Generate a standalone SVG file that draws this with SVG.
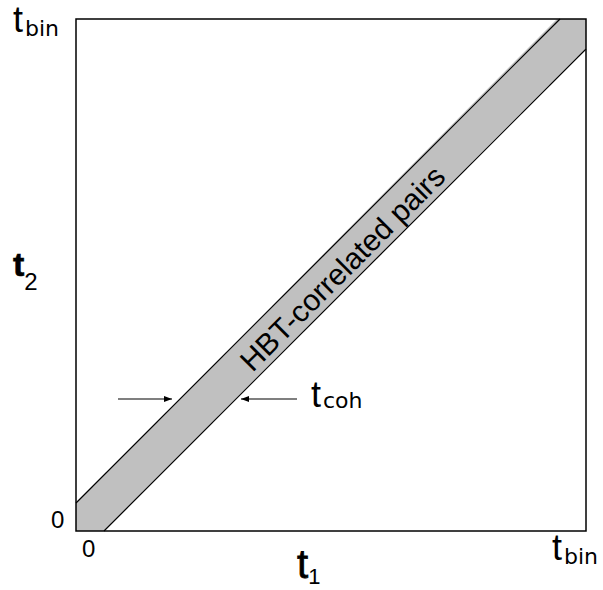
<svg xmlns="http://www.w3.org/2000/svg" width="603" height="590" viewBox="0 0 603 590">
<style>
text{font-family:"Liberation Sans",Arial,sans-serif;fill:#000}
.tw{font-size:36px}
.sub{font-family:"DejaVu Sans","Liberation Sans",sans-serif;font-size:22px}
.zero{font-size:24px}
.edge{stroke:#000;stroke-width:1.2;fill:none}
</style>
<defs>
<marker id="ah" markerWidth="8" markerHeight="6" refX="8" refY="3" orient="auto" markerUnits="userSpaceOnUse">
<path d="M0,0 L8,3 L0,6 Z" fill="#000"/>
</marker>
</defs>
<rect width="603" height="590" fill="#fff"/>
<g id="band">
<polygon points="76,503 557,19 586,19 586,48 104,531 76,531" fill="#c0c0c0"/>
<line class="edge" x1="76" y1="503" x2="560" y2="19"/>
<line class="edge" x1="104" y1="531" x2="586" y2="49"/>
<text transform="translate(342,268) rotate(-45)" text-anchor="middle" y="11" font-size="30">HBT-correlated pairs</text>
</g>
<g id="frame">
<rect x="76" y="19" width="510" height="512" fill="none" stroke="#000" stroke-width="1.5"/>
</g>
<g id="connectors">
<line x1="118" y1="399" x2="172" y2="399" stroke="#000" stroke-width="1.2" marker-end="url(#ah)"/>
<line x1="297" y1="399" x2="241" y2="399" stroke="#000" stroke-width="1.2" marker-end="url(#ah)"/>
</g>
<g id="labels">
<text class="tw" x="13" y="32">t</text>
<text class="sub" x="25" y="36">bin</text>
<text class="tw" x="552" y="560">t</text>
<text class="sub" x="564" y="564">bin</text>
<text class="tw" x="311" y="407">t</text>
<text class="sub" x="323" y="408" font-size="23">coh</text>
<text x="13" y="276"><tspan font-size="34" font-weight="600" stroke="#000" stroke-width="0.6">t</tspan><tspan font-size="24" dy="14">2</tspan></text>
<text x="297" y="578"><tspan font-size="40" stroke="#000" stroke-width="0.8">t</tspan><tspan font-size="22" dy="6">1</tspan></text>
<text class="zero" x="51" y="528">0</text>
<text class="zero" x="82" y="557">0</text>
</g>
</svg>
